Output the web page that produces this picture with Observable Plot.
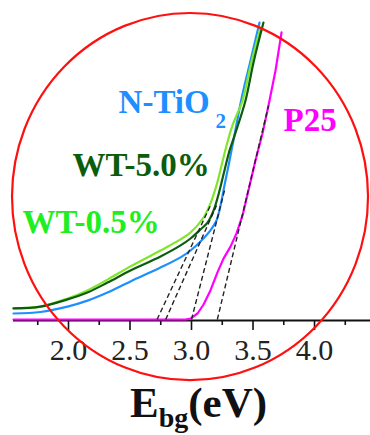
<!DOCTYPE html>
<html><head><meta charset="utf-8">
<script src="https://cdn.jsdelivr.net/npm/d3@7"></script>
<script src="https://cdn.jsdelivr.net/npm/@observablehq/plot@0.6"></script>
<style>
html,body{margin:0;padding:0;background:#fff;overflow:hidden;width:370px;height:435px}
#chart svg{display:block;font-family:'Liberation Serif',serif !important}
#chart svg text{font-family:'Liberation Serif',serif !important}
#xlabel{position:relative;left:130px;font-family:'Liberation Serif',serif;font-weight:bold;font-size:43px;line-height:35px;white-space:nowrap;color:#111}
#xlabel span{font-size:28px;position:relative;top:10px}
</style></head><body><div id="chart"></div><div id="xlabel"></div>
<script>
// Kubelka-Munk / Tauc plot: (arbitrary units) vs photon energy E (eV)
const eNTiO2 = [1.553,1.772,1.992,2.154,2.317,2.504,2.748,2.911,2.992,3.073,3.154,3.203,3.236,3.268,3.301,3.341,3.407,3.480,3.553];
const vNTiO2 = [2.0,2.5,4.3,6.3,9.0,12.7,17.3,20.7,23.0,26.0,29.7,33.0,38.0,44.7,51.3,59.7,73.7,86.3,99.0];
const eWT50 = [1.553,1.772,1.992,2.154,2.317,2.504,2.748,2.911,2.992,3.073,3.130,3.179,3.228,3.268,3.309,3.350,3.439,3.504,3.585];
const vWT50 = [3.7,4.3,6.7,9.0,12.3,16.3,21.0,24.7,27.0,30.0,32.3,36.3,43.0,49.7,56.3,61.3,73.0,85.7,99.0];
const eWT05 = [1.553,1.772,1.992,2.154,2.317,2.504,2.748,2.911,2.992,3.098,3.154,3.203,3.244,3.285,3.333,3.415,3.480,3.561];
const vWT05 = [3.7,4.3,7.0,9.7,13.3,17.7,23.0,26.7,29.0,34.0,38.7,44.7,51.3,58.0,64.7,73.0,84.7,97.3];
const eP25 = [1.553,2.260,2.951,2.992,3.049,3.098,3.154,3.211,3.260,3.317,3.366,3.415,3.463,3.520,3.577,3.626,3.683,3.732];
const vP25 = [0,0,0,0.3,2.0,5.0,9.7,15.7,20.3,24.3,28.7,34.7,43.0,53.0,62.0,71.3,83.0,95.7];

// band-gap tangent extrapolations
const gapSeries = ["WT-0.5%","WT-5.0%","N-TiO2","P25"];
const gapStartE = [2.72, 2.79, 3.00, 3.21];
const gapEndE = [3.154, 3.203, 3.268, 3.626];
const gapEndV = [38, 38, 43, 71.3];

const majorTicks = [2.0, 2.5, 3.0, 3.5, 4.0];
const minorTicks = [1.75, 2.25, 2.75, 3.25, 3.75, 4.25];

const labelNames = ["N-TiO", "2", "P25", "WT-5.0%", "WT-0.5%"];
const axisLabel = ["E", "bg", "(eV)"];

const serif = "'Liberation Serif', serif";
const toRows = (e, v) => e.map((d, i) => ({e: d, v: v[i]}));
const blue = "#1e8fff", dark = "#0b5d0b", lime = "#80e62a", limeText = "#1fee1f", mag = "#ff00ff";

const labels = [
  {t: labelNames[0], e: 2.407, v: 69, c: blue, s: 33},
  {t: labelNames[1], e: 3.195, v: 64, c: blue, s: 21},
  {t: labelNames[2], e: 3.748, v: 63, c: mag, s: 33},
  {t: labelNames[3], e: 2.033, v: 47.7, c: dark, s: 33},
  {t: labelNames[4], e: 1.626, v: 28.7, c: limeText, s: 33}
];

const ring = (index, scales) => {
  const {x, y} = scales;
  const cx = x(2.992), cy = y(40.8);
  const rx = x(2.992 + 1.447) - cx, ry = cy - y(40.8 + 61.2);
  return d3.create("svg:ellipse")
    .attr("cx", cx).attr("cy", cy).attr("rx", rx).attr("ry", ry)
    .attr("fill", "none").attr("stroke", "#ff1010").attr("stroke-width", 2.2)
    .node();
};

const chart = Plot.plot({
  width: 370, height: 385,
  marginLeft: 13, marginRight: 0, marginTop: 19, marginBottom: 66,
  x: {domain: [1.553, 4.455], axis: null},
  y: {domain: [0, 100], axis: null},
  color: {type: "identity"},
  style: {fontFamily: serif, background: "#fff", overflow: "visible"},
  marks: [
    Plot.ruleY([0], {stroke: "#111", strokeWidth: 2, dy: 1}),
    Plot.axisX({ticks: majorTicks, tickSize: 10, tickPadding: 8, tickFormat: d3.format(".1f"),
      fontSize: 30, fontFamily: serif, fill: "#222", stroke: "#111", strokeWidth: 1.6, label: null, dy: 1}),
    Plot.axisX({ticks: minorTicks, tickSize: 5, tickFormat: () => "", stroke: "#111", strokeWidth: 1.6, label: null, dy: 1}),
    Plot.line(toRows(eP25, vP25), {x: "e", y: "v", stroke: mag, strokeWidth: 2.2}),
    Plot.line(toRows(eNTiO2, vNTiO2), {x: "e", y: "v", stroke: blue, strokeWidth: 2.2, curve: "catmull-rom"}),
    Plot.line(toRows(eWT05, vWT05), {x: "e", y: "v", stroke: lime, strokeWidth: 2.2, curve: "catmull-rom"}),
    Plot.line(toRows(eWT50, vWT50), {x: "e", y: "v", stroke: dark, strokeWidth: 2.2, curve: "catmull-rom"}),
    Plot.link(gapSeries, {x1: (d, i) => gapStartE[i], y1: () => 0, x2: (d, i) => gapEndE[i], y2: (d, i) => gapEndV[i],
      stroke: "#222", strokeWidth: 1.4, strokeDasharray: "5,3"}),
    Plot.text(labels, {x: "e", y: "v", text: "t", fill: "c", fontSize: "s", fontWeight: "bold", fontFamily: serif,
      textAnchor: "start", lineAnchor: "bottom"}),
    ring
  ]
});
document.getElementById("chart").appendChild(chart);
const xl = document.getElementById("xlabel");
xl.append(axisLabel[0]);
const sub = document.createElement("span"); sub.textContent = axisLabel[1]; xl.append(sub);
xl.append(axisLabel[2]);
</script></body></html>
